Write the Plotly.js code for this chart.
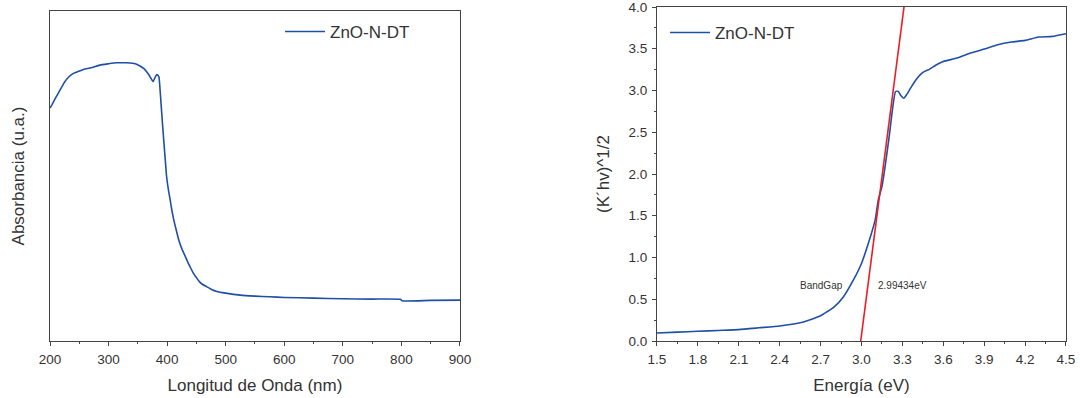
<!DOCTYPE html>
<html>
<head>
<meta charset="utf-8">
<script src="https://cdn.plot.ly/plotly-3.0.1.min.js"></script>
<style>html,body{margin:0;padding:0;background:#fff;}#chart{width:1080px;height:398px;}</style>
</head>
<body>
<div id="chart"></div>
<script>
// Absorbance spectrum (left panel)
const wavelength = [200,203,210,217,225,232,240,250,257,270,285,300,314,330,348,355,360,365,369,372,376,379,382,384,386,388,390,392,395,397,399,402,405,408,411,415,420,425,430,435,440,445,450,455,460,467,475,485,500,525,550,575,600,650,700,750,799,801,850,900];
const absorbance = [0.706,0.715,0.738,0.76,0.785,0.8,0.811,0.818,0.823,0.828,0.836,0.84,0.843,0.843,0.839,0.832,0.826,0.816,0.806,0.797,0.786,0.797,0.807,0.806,0.8,0.76,0.71,0.66,0.59,0.545,0.5,0.46,0.43,0.397,0.37,0.34,0.305,0.28,0.26,0.24,0.222,0.205,0.192,0.18,0.172,0.165,0.157,0.15,0.145,0.139,0.136,0.134,0.132,0.13,0.128,0.127,0.126,0.122,0.123,0.124];

// Tauc plot (right panel)
const energy = [1.5,1.65,1.8,1.95,2.1,2.25,2.4,2.55,2.65,2.7,2.745,2.8,2.867,2.94,3.0,3.05,3.1,3.123,3.15,3.2,3.23,3.25,3.27,3.29,3.31,3.33,3.36,3.4,3.45,3.5,3.55,3.6,3.7,3.8,3.9,4.0,4.1,4.2,4.3,4.4,4.5];
const tauc = [0.096,0.106,0.116,0.126,0.136,0.158,0.18,0.218,0.27,0.302,0.348,0.41,0.528,0.728,0.929,1.168,1.448,1.688,1.848,2.408,2.808,2.988,2.988,2.936,2.908,2.948,3.028,3.128,3.216,3.256,3.308,3.348,3.388,3.448,3.496,3.548,3.58,3.6,3.64,3.648,3.68];

// Linear fit (band gap extrapolation)
const fitX = [2.99434, 3.312];
const fitY = [0, 4.0];
const bandGapLabel = "BandGap";
const bandGapValue = "2.99434eV";
const seriesName = "ZnO-N-DT";

const blue = "#1f4fa6";
const red = "#ee1c25";
const txt = "#333333";
const font = "Arial, 'Liberation Sans', sans-serif";

const traces = [
  {x: wavelength, y: absorbance, type: "scatter", mode: "lines", name: seriesName,
   line: {color: blue, width: 1.6, shape: "spline", smoothing: 0.5}, xaxis: "x", yaxis: "y", legend: "legend"},
  {x: energy, y: tauc, type: "scatter", mode: "lines", name: seriesName,
   line: {color: blue, width: 1.6, shape: "spline", smoothing: 0.5}, xaxis: "x2", yaxis: "y2", legend: "legend2"},
  {x: fitX, y: fitY, type: "scatter", mode: "lines", showlegend: false,
   line: {color: red, width: 1.6}, xaxis: "x2", yaxis: "y2"}
];

const axBase = {showline: true, linecolor: "#444", linewidth: 1, mirror: true,
  showgrid: false, zeroline: false, ticks: "outside", ticklen: 4, tickcolor: "#444",
  ticklabelstandoff: 2, ticklabeloverflow: "allow",
  tickfont: {size: 13.5, color: txt, family: font}, automargin: false};

const layout = {
  width: 1080, height: 398,
  margin: {l: 50, r: 14, t: 7, b: 57},
  paper_bgcolor: "#fff", plot_bgcolor: "#fff",
  font: {family: font, color: txt},
  showlegend: true,
  xaxis: Object.assign({}, axBase, {domain: [0, 0.4035], range: [200, 900], dtick: 100, tick0: 200,
    minor: {ticks: "outside", ticklen: 2, dtick: 50, tickcolor: "#444"},
    title: {text: "Longitud de Onda (nm)", font: {size: 17, color: txt}, standoff: 12}}),
  yaxis: Object.assign({}, axBase, {domain: [0, 0.988], range: [0, 1], showticklabels: false, ticks: "",
    title: {text: "Absorbancia (u.a.)", font: {size: 17, color: txt}, standoff: 20}}),
  xaxis2: Object.assign({}, axBase, {domain: [0.5974, 1], range: [1.5, 4.5], dtick: 0.3, tick0: 1.5,
    tickformat: ".1f", anchor: "y2",
    minor: {ticks: "outside", ticklen: 2, dtick: 0.15, tickcolor: "#444"},
    title: {text: "Energía (eV)", font: {size: 17, color: txt}, standoff: 12}}),
  yaxis2: Object.assign({}, axBase, {domain: [0, 1], range: [0, 4], dtick: 0.5, tick0: 0,
    tickformat: ".1f", anchor: "x2",
    minor: {ticks: "outside", ticklen: 2, dtick: 0.25, tickcolor: "#444"},
    title: {text: "(K´hv)^1/2", font: {size: 17, color: txt}, standoff: 14}}),
  legend: {x: 0.2264, y: 0.979, xanchor: "left", yanchor: "top", bgcolor: "rgba(0,0,0,0)",
    itemwidth: 40, font: {size: 17, color: txt}},
  legend2: {x: 0.6053, y: 0.976, xanchor: "left", yanchor: "top", bgcolor: "rgba(0,0,0,0)",
    itemwidth: 40, font: {size: 17, color: txt}},
  annotations: [
    {x: 2.71, y: 0.668, xref: "x2", yref: "y2", text: bandGapLabel, showarrow: false,
     font: {size: 10, color: txt}},
    {x: 3.304, y: 0.668, xref: "x2", yref: "y2", text: bandGapValue, showarrow: false,
     font: {size: 10, color: txt}}
  ]
};

Plotly.newPlot("chart", traces, layout, {displayModeBar: false, staticPlot: true});
</script>
</body>
</html>
